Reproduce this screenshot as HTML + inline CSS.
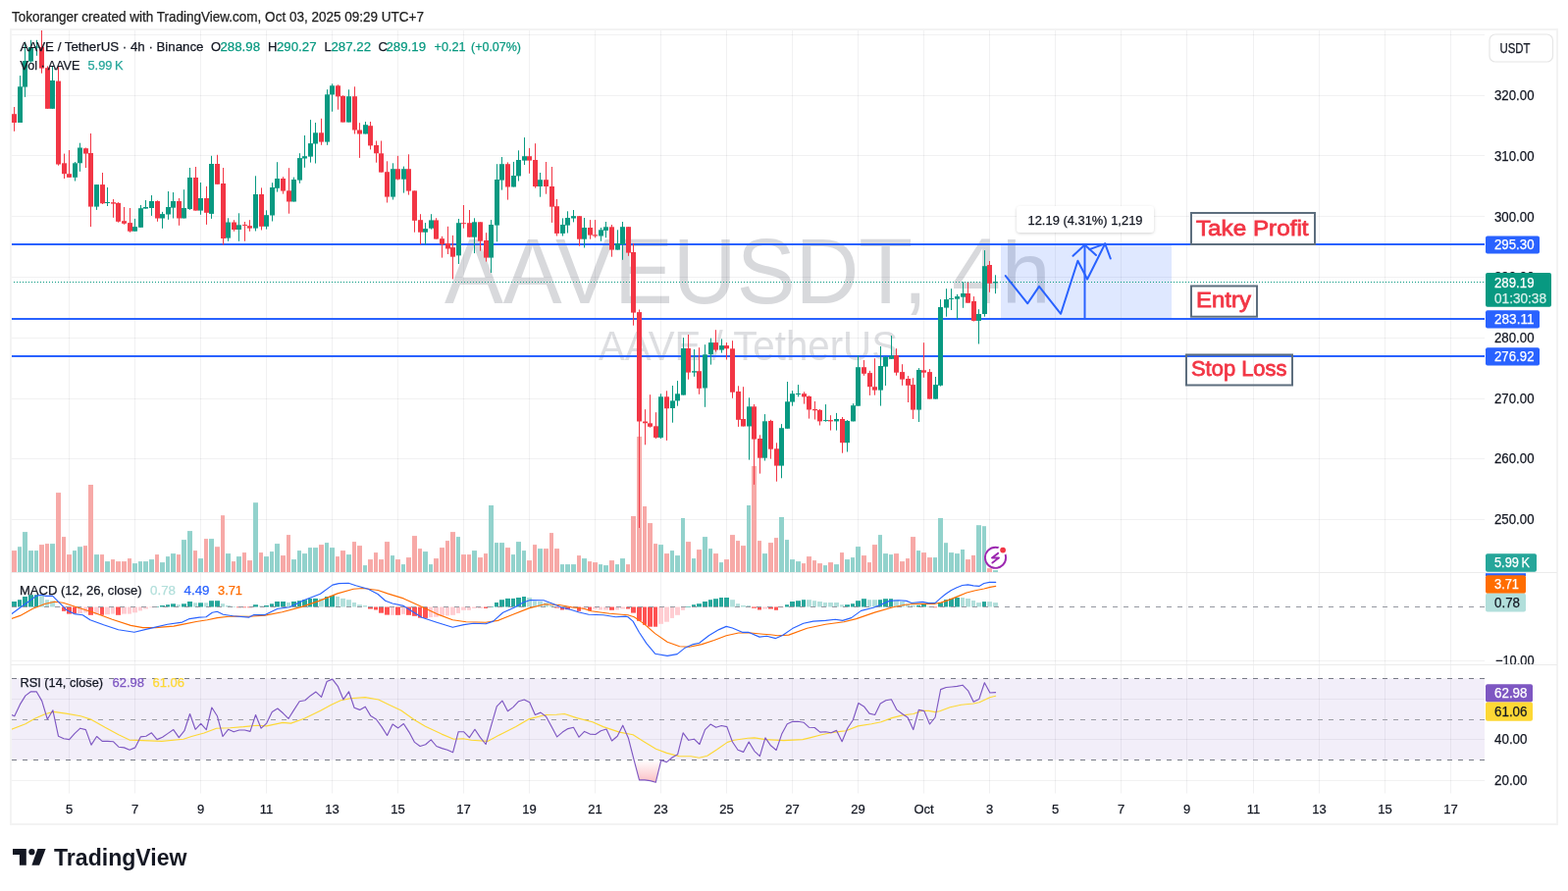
<!DOCTYPE html>
<html><head><meta charset="utf-8"><title>AAVEUSDT 4h chart</title><style>
html,body{margin:0;padding:0;background:#ffffff;width:1598px;height:908px;overflow:hidden}
svg{display:block}
text{font-family:'Liberation Sans', Arial, sans-serif}
</style></head><body>
<svg width="1598" height="908" viewBox="0 0 1598 908">
<defs>
<clipPath id="cmain"><rect x="12" y="31" width="1501" height="552"/></clipPath>
<clipPath id="cmacd"><rect x="12" y="584" width="1501" height="93"/></clipPath>
<clipPath id="crsi"><rect x="12" y="678" width="1501" height="131"/></clipPath>
<clipPath id="cmacdax"><rect x="1513" y="584" width="73" height="93"/></clipPath>
<linearGradient id="osg" x1="0" y1="0" x2="0" y2="1"><stop offset="0" stop-color="#f23645" stop-opacity="0"/><stop offset="1" stop-color="#f23645" stop-opacity="0.32"/></linearGradient>
</defs>
<text x="12" y="22" font-size="14" fill="#222222" text-anchor="start" font-weight="normal" textLength="420" lengthAdjust="spacingAndGlyphs" stroke="#222222" stroke-width="0.25">Tokoranger created with TradingView.com, Oct 03, 2025 09:29 UTC+7</text>
<rect x="11" y="30" width="1576" height="810" fill="#ffffff" stroke="#f3f3f3" stroke-width="2"/>
<g clip-path="url(#cmain)">
<text x="453" y="309" font-size="94" fill="#d8d9dc" text-anchor="start" font-weight="normal" textLength="567" lengthAdjust="spacingAndGlyphs">AAVEUSDT, 4</text>
<text x="1020.7" y="309" font-size="89.7" fill="#d8d9dc" text-anchor="start" font-weight="normal">h</text>
<text x="610" y="367.3" font-size="43" fill="#dddee1" text-anchor="start" font-weight="normal" textLength="305" lengthAdjust="spacingAndGlyphs">AAVE / TetherUS</text>
<path d="M70.5 31V583M137.5 31V583M204.5 31V583M271.5 31V583M338.5 31V583M405.5 31V583M472.5 31V583M539.5 31V583M606.5 31V583M673.5 31V583M740.5 31V583M807.5 31V583M874.5 31V583M941.5 31V583M1008.5 31V583M1075.5 31V583M1142.5 31V583M1209.5 31V583M1277.5 31V583M1344.5 31V583M1411.5 31V583M1478.5 31V583M1545.5 31V583M12 35.5H1513M12 97.5H1513M12 158.5H1513M12 220.5H1513M12 282.5H1513M12 344.5H1513M12 406.5H1513M12 467.5H1513M12 529.5H1513" stroke="#2a2e39" stroke-opacity="0.065" stroke-width="1" fill="none"/>
<g fill="#92d2cc"><rect x="18" y="557.2" width="4" height="25.8"/><rect x="23" y="542.1" width="5" height="40.9"/><rect x="29" y="561.1" width="5" height="21.9"/><rect x="35" y="561.1" width="4" height="21.9"/><rect x="51" y="554.1" width="5" height="28.9"/><rect x="74" y="561.1" width="4" height="21.9"/><rect x="79" y="557.2" width="5" height="25.8"/><rect x="96" y="565.1" width="5" height="17.9"/><rect x="107" y="572.1" width="5" height="10.9"/><rect x="135" y="574.1" width="5" height="8.9"/><rect x="141" y="572.1" width="4" height="10.9"/><rect x="146" y="572.1" width="5" height="10.9"/><rect x="152" y="570.1" width="5" height="12.9"/><rect x="163" y="573.1" width="5" height="9.9"/><rect x="169" y="567.1" width="4" height="15.9"/><rect x="174" y="564.1" width="5" height="18.9"/><rect x="185" y="550.1" width="5" height="32.9"/><rect x="191" y="541.1" width="5" height="41.9"/><rect x="202" y="569.1" width="5" height="13.9"/><rect x="213" y="549.1" width="5" height="33.9"/><rect x="230" y="564.1" width="5" height="18.9"/><rect x="241" y="567.1" width="5" height="15.9"/><rect x="258" y="512.2" width="5" height="70.8"/><rect x="269" y="567.1" width="5" height="15.9"/><rect x="275" y="562.1" width="4" height="20.9"/><rect x="280" y="554.1" width="5" height="28.9"/><rect x="297" y="570.1" width="5" height="12.9"/><rect x="303" y="561.1" width="4" height="21.9"/><rect x="308" y="564.1" width="5" height="18.9"/><rect x="314" y="558.1" width="4" height="24.9"/><rect x="319" y="558.1" width="5" height="24.9"/><rect x="331" y="553.1" width="4" height="29.9"/><rect x="336" y="558.1" width="5" height="24.9"/><rect x="353" y="565.1" width="5" height="17.9"/><rect x="370" y="576.1" width="4" height="6.9"/><rect x="398" y="566.1" width="4" height="16.9"/><rect x="409" y="575.1" width="4" height="7.9"/><rect x="431" y="562.1" width="5" height="20.9"/><rect x="437" y="575.1" width="4" height="7.9"/><rect x="465" y="547.1" width="4" height="35.9"/><rect x="481" y="561.1" width="5" height="21.9"/><rect x="498" y="515" width="5" height="68"/><rect x="504" y="553.1" width="4" height="29.9"/><rect x="509" y="553.1" width="5" height="29.9"/><rect x="521" y="565.1" width="4" height="17.9"/><rect x="526" y="552.1" width="5" height="30.9"/><rect x="532" y="561.1" width="4" height="21.9"/><rect x="548" y="559.1" width="5" height="23.9"/><rect x="571" y="575.1" width="4" height="7.9"/><rect x="576" y="575.1" width="5" height="7.9"/><rect x="582" y="575.1" width="5" height="7.9"/><rect x="593" y="569.1" width="5" height="13.9"/><rect x="610" y="575.1" width="4" height="7.9"/><rect x="615" y="576.1" width="5" height="6.9"/><rect x="627" y="575.1" width="4" height="7.9"/><rect x="632" y="569.1" width="5" height="13.9"/><rect x="671" y="555.1" width="5" height="27.9"/><rect x="683" y="561.1" width="4" height="21.9"/><rect x="688" y="566.1" width="5" height="16.9"/><rect x="694" y="528" width="4" height="55"/><rect x="705" y="569.1" width="4" height="13.9"/><rect x="716" y="547.1" width="5" height="35.9"/><rect x="722" y="559.1" width="4" height="23.9"/><rect x="733" y="573.1" width="4" height="9.9"/><rect x="761" y="515" width="4" height="68"/><rect x="777" y="564.1" width="5" height="18.9"/><rect x="794" y="527" width="5" height="56"/><rect x="800" y="550.1" width="4" height="32.9"/><rect x="805" y="570.1" width="5" height="12.9"/><rect x="811" y="572.1" width="5" height="10.9"/><rect x="839" y="576.1" width="4" height="6.9"/><rect x="850" y="575.1" width="5" height="7.9"/><rect x="861" y="570.1" width="5" height="12.9"/><rect x="867" y="568.1" width="4" height="14.9"/><rect x="872" y="557.1" width="5" height="25.9"/><rect x="895" y="545.1" width="4" height="37.9"/><rect x="900" y="564.1" width="5" height="18.9"/><rect x="906" y="565.1" width="4" height="17.9"/><rect x="934" y="561.1" width="4" height="21.9"/><rect x="951" y="568.1" width="4" height="14.9"/><rect x="956" y="528" width="5" height="55"/><rect x="962" y="553.2" width="4" height="29.8"/><rect x="967" y="563.1" width="5" height="19.9"/><rect x="973" y="564.1" width="5" height="18.9"/><rect x="979" y="560" width="4" height="23"/><rect x="995" y="535.2" width="5" height="47.8"/><rect x="1001" y="536.2" width="4" height="46.8"/><rect x="1012" y="581.1" width="5" height="1.9"/></g>
<g fill="#f7a9a7"><rect x="12" y="561.1" width="5" height="21.9"/><rect x="40" y="555.1" width="5" height="27.9"/><rect x="46" y="554.1" width="4" height="28.9"/><rect x="57" y="502.1" width="5" height="80.9"/><rect x="63" y="547.1" width="4" height="35.9"/><rect x="68" y="565.1" width="5" height="17.9"/><rect x="85" y="556.1" width="4" height="26.9"/><rect x="90" y="494" width="5" height="89"/><rect x="102" y="565.1" width="4" height="17.9"/><rect x="113" y="570.1" width="4" height="12.9"/><rect x="118" y="572.1" width="5" height="10.9"/><rect x="124" y="572.1" width="5" height="10.9"/><rect x="130" y="569.1" width="4" height="13.9"/><rect x="158" y="565.1" width="4" height="17.9"/><rect x="180" y="565.1" width="4" height="17.9"/><rect x="197" y="561.1" width="4" height="21.9"/><rect x="208" y="549.1" width="4" height="33.9"/><rect x="219" y="557.2" width="5" height="25.8"/><rect x="225" y="525.2" width="4" height="57.8"/><rect x="236" y="572.1" width="4" height="10.9"/><rect x="247" y="563.1" width="4" height="19.9"/><rect x="252" y="571.1" width="5" height="11.9"/><rect x="264" y="563.1" width="4" height="19.9"/><rect x="286" y="566.1" width="5" height="16.9"/><rect x="292" y="545.1" width="4" height="37.9"/><rect x="325" y="555.1" width="5" height="27.9"/><rect x="342" y="567.1" width="4" height="15.9"/><rect x="347" y="561.1" width="5" height="21.9"/><rect x="359" y="552.1" width="4" height="30.9"/><rect x="364" y="556.1" width="5" height="26.9"/><rect x="375" y="570.1" width="5" height="12.9"/><rect x="381" y="563.1" width="4" height="19.9"/><rect x="386" y="570.1" width="5" height="12.9"/><rect x="392" y="552.1" width="5" height="30.9"/><rect x="403" y="570.1" width="5" height="12.9"/><rect x="414" y="568.1" width="5" height="14.9"/><rect x="420" y="546.1" width="5" height="36.9"/><rect x="426" y="559.1" width="4" height="23.9"/><rect x="442" y="569.1" width="5" height="13.9"/><rect x="448" y="558.1" width="5" height="24.9"/><rect x="454" y="551.1" width="4" height="31.9"/><rect x="459" y="542.1" width="5" height="40.9"/><rect x="470" y="565.1" width="5" height="17.9"/><rect x="476" y="565.1" width="4" height="17.9"/><rect x="487" y="568.1" width="5" height="14.9"/><rect x="493" y="564.1" width="4" height="18.9"/><rect x="515" y="558.1" width="5" height="24.9"/><rect x="537" y="571.1" width="5" height="11.9"/><rect x="543" y="555.1" width="4" height="27.9"/><rect x="554" y="559.1" width="5" height="23.9"/><rect x="560" y="543.1" width="4" height="39.9"/><rect x="565" y="559.1" width="5" height="23.9"/><rect x="588" y="566.1" width="4" height="16.9"/><rect x="599" y="572.1" width="4" height="10.9"/><rect x="604" y="573.1" width="5" height="9.9"/><rect x="621" y="571.1" width="5" height="11.9"/><rect x="638" y="575.1" width="4" height="7.9"/><rect x="643" y="526" width="5" height="57"/><rect x="649" y="444.9" width="5" height="138.1"/><rect x="655" y="516" width="4" height="67"/><rect x="660" y="533.1" width="5" height="49.9"/><rect x="666" y="554.1" width="4" height="28.9"/><rect x="677" y="564.1" width="5" height="18.9"/><rect x="699" y="552.1" width="5" height="30.9"/><rect x="710" y="560.1" width="5" height="22.9"/><rect x="727" y="564.1" width="5" height="18.9"/><rect x="738" y="570.1" width="5" height="12.9"/><rect x="744" y="545.1" width="5" height="37.9"/><rect x="750" y="551.1" width="4" height="31.9"/><rect x="755" y="556.1" width="5" height="26.9"/><rect x="766" y="475" width="5" height="108"/><rect x="772" y="551.1" width="4" height="31.9"/><rect x="783" y="553.1" width="5" height="29.9"/><rect x="789" y="548.1" width="4" height="34.9"/><rect x="817" y="574.1" width="4" height="8.9"/><rect x="822" y="567.1" width="5" height="15.9"/><rect x="828" y="571.1" width="4" height="11.9"/><rect x="833" y="574.1" width="5" height="8.9"/><rect x="844" y="573.1" width="5" height="9.9"/><rect x="856" y="563.1" width="4" height="19.9"/><rect x="878" y="566.1" width="5" height="16.9"/><rect x="884" y="573.1" width="4" height="9.9"/><rect x="889" y="555.1" width="5" height="27.9"/><rect x="911" y="564.1" width="5" height="18.9"/><rect x="917" y="572.1" width="5" height="10.9"/><rect x="923" y="569.1" width="4" height="13.9"/><rect x="928" y="547.1" width="5" height="35.9"/><rect x="939" y="563.1" width="5" height="19.9"/><rect x="945" y="568.1" width="5" height="14.9"/><rect x="984" y="570.1" width="5" height="12.9"/><rect x="990" y="565.9" width="4" height="17.1"/><rect x="1006" y="579.1" width="5" height="3.9"/></g>
<rect x="1020" y="249" width="174" height="75.5" fill="#2962ff" fill-opacity="0.15"/>
<line x1="12" y1="249" x2="1513" y2="249" stroke="#2962ff" stroke-width="2"/>
<line x1="12" y1="325" x2="1513" y2="325" stroke="#2962ff" stroke-width="2"/>
<line x1="12" y1="363" x2="1513" y2="363" stroke="#2962ff" stroke-width="2"/>
<line x1="12" y1="287.5" x2="1513" y2="287.5" stroke="#089981" stroke-width="1" stroke-dasharray="1 2" stroke-dashoffset="1"/>
<path d="M20.5 77.1V125M25.5 42.6V98.9M31.5 40.8V63.8M37.5 40.8V56.8M53.5 67.4V110.8M76.5 165V184.5M81.5 145.7V174.8M98.5 188.1V213.9M109.5 191V210M137.5 222.9V235.7M143.5 209V231.8M148.5 204V212.6M154.5 199V219.9M165.5 215.9V232.8M171.5 195V223.8M176.5 196V222.5M187.5 193.2V222.5M193.5 171V213.9M204.5 186V218.8M215.5 158.8V222.9M232.5 222.3V245.8M243.5 217.3V245.8M260.5 179.3V235.5M271.5 214.3V233.6M277.5 186.2V225.5M282.5 165.2V195.6M299.5 180.6V205.5M305.5 156.2V186.8M310.5 138V170.8M316.5 122.1V165.6M321.5 125V166.5M333.5 91.2V147.8M338.5 85.4V113.7M355.5 91.3V124.6M372.5 124V136.5M400.5 166.3V203.5M411.5 169.6V196.6M433.5 227.1V249.5M439.5 218.2V233.7M467.5 223V269M483.5 222.3V258.1M500.5 224.1V278M506.5 167.2V246.3M511.5 160V193.6M523.5 164.9V190.5M528.5 153.3V184.5M534.5 140.1V168M550.5 176V200.7M573.5 222.4V240.5M578.5 215.3V237.5M584.5 214V226.4M595.5 222V252.5M612.5 232V245.8M617.5 226V242.3M629.5 234.3V254.6M634.5 226V264.8M673.5 401.3V447.1M685.5 393V430.7M690.5 388.1V413.7M696.5 344.1V402.6M707.5 356V383.8M718.5 351.2V414.8M724.5 344.6V371.6M735.5 345.4V359.6M763.5 405.3V468.6M779.5 422.1V469.5M796.5 432.1V487.3M802.5 389V436.8M807.5 398.2V413.7M813.5 392.1V404.4M841.5 412.1V429.7M852.5 420.9V438.6M863.5 428.1V460.5M869.5 411.2V429.4M874.5 362.3V413.7M897.5 353V413.6M902.5 363.3V393M908.5 342.1V365.8M936.5 375.1V430M953.5 384V406.6M958.5 305.1V393.6M964.5 294.2V322.7M969.5 294.2V316M975.5 299.9V325.7M981.5 287.3V313.8M997.5 315.2V350.5M1003.5 255.1V322.7M1014.5 280.3V299.2" stroke="#089981" stroke-width="1" fill="none"/>
<g fill="#089981"><rect x="18" y="88.3" width="5" height="36.7"/><rect x="23" y="62" width="5" height="26.6"/><rect x="29" y="48" width="5" height="14.6"/><rect x="35" y="47.4" width="5" height="1.2"/><rect x="51" y="82" width="5" height="28.8"/><rect x="74" y="166.3" width="5" height="14.5"/><rect x="79" y="150.5" width="5" height="15.8"/><rect x="96" y="188.1" width="5" height="22.5"/><rect x="107" y="206" width="5" height="1"/><rect x="135" y="231.1" width="5" height="4.6"/><rect x="141" y="212.2" width="5" height="19.6"/><rect x="146" y="211" width="5" height="1.6"/><rect x="152" y="205" width="5" height="7"/><rect x="163" y="218.1" width="5" height="4.4"/><rect x="169" y="211" width="5" height="7.5"/><rect x="174" y="205" width="5" height="6.7"/><rect x="185" y="212" width="5" height="10.5"/><rect x="191" y="180.9" width="5" height="32.1"/><rect x="202" y="202" width="5" height="12.6"/><rect x="213" y="167" width="5" height="50.9"/><rect x="230" y="226.5" width="5" height="16.1"/><rect x="241" y="229.3" width="5" height="4.7"/><rect x="258" y="198" width="5" height="34.6"/><rect x="269" y="219.2" width="5" height="11.6"/><rect x="275" y="191" width="5" height="28.5"/><rect x="280" y="182" width="5" height="9.8"/><rect x="297" y="183" width="5" height="22.5"/><rect x="303" y="161.1" width="5" height="22.5"/><rect x="308" y="159.2" width="5" height="2.3"/><rect x="314" y="146.1" width="5" height="13.5"/><rect x="319" y="135.3" width="5" height="11.2"/><rect x="331" y="96.3" width="5" height="48.3"/><rect x="336" y="87.3" width="5" height="9.2"/><rect x="353" y="98.2" width="5" height="26.4"/><rect x="370" y="127.2" width="5" height="9.3"/><rect x="398" y="172.2" width="5" height="28.4"/><rect x="409" y="172.2" width="5" height="10.5"/><rect x="431" y="233.1" width="5" height="3.6"/><rect x="437" y="224.4" width="5" height="8.3"/><rect x="465" y="227.2" width="5" height="33.2"/><rect x="481" y="226.3" width="5" height="15.4"/><rect x="498" y="229" width="5" height="33.6"/><rect x="504" y="183" width="5" height="46.6"/><rect x="509" y="167.2" width="5" height="16.4"/><rect x="521" y="179" width="5" height="11.5"/><rect x="526" y="163" width="5" height="16.4"/><rect x="532" y="159.2" width="5" height="4.4"/><rect x="548" y="183.2" width="5" height="6.8"/><rect x="571" y="229" width="5" height="8.9"/><rect x="576" y="222" width="5" height="7.6"/><rect x="582" y="220.2" width="5" height="2.3"/><rect x="593" y="232" width="5" height="11.7"/><rect x="610" y="234.3" width="5" height="6.2"/><rect x="615" y="231.3" width="5" height="3.6"/><rect x="627" y="248.1" width="5" height="6.5"/><rect x="632" y="231.2" width="5" height="17.8"/><rect x="671" y="404.3" width="5" height="41.6"/><rect x="683" y="408.4" width="5" height="7.6"/><rect x="688" y="401.3" width="5" height="7.1"/><rect x="694" y="355" width="5" height="47.6"/><rect x="705" y="378.2" width="5" height="1.4"/><rect x="716" y="361.3" width="5" height="34.2"/><rect x="722" y="349.1" width="5" height="12.2"/><rect x="733" y="352.1" width="5" height="4.5"/><rect x="761" y="414.3" width="5" height="20.2"/><rect x="777" y="429.3" width="5" height="37.4"/><rect x="794" y="436.2" width="5" height="38.4"/><rect x="800" y="409.3" width="5" height="27.5"/><rect x="805" y="401.2" width="5" height="8.4"/><rect x="811" y="401" width="5" height="1"/><rect x="839" y="428.1" width="5" height="1"/><rect x="850" y="427" width="5" height="2.4"/><rect x="861" y="428.9" width="5" height="22.3"/><rect x="867" y="413.2" width="5" height="16.2"/><rect x="872" y="374.2" width="5" height="39.5"/><rect x="895" y="373" width="5" height="24.6"/><rect x="900" y="363.7" width="5" height="9.9"/><rect x="906" y="362.5" width="5" height="3.3"/><rect x="934" y="377" width="5" height="40.6"/><rect x="951" y="392.1" width="5" height="14.5"/><rect x="956" y="313" width="5" height="79.8"/><rect x="962" y="305.1" width="5" height="8.5"/><rect x="967" y="303.9" width="5" height="1"/><rect x="973" y="302.1" width="5" height="2.6"/><rect x="979" y="299" width="5" height="3.7"/><rect x="995" y="320" width="5" height="6.9"/><rect x="1001" y="271.2" width="5" height="48.8"/><rect x="1012" y="287" width="5" height="1.3"/></g>
<path d="M14.5 109V133.8M42.5 30.1V74.7M48.5 67.4V110.8M59.5 66.8V168.7M65.5 156.6V182M70.5 153V180.8M87.5 150.5V171M92.5 136V231.1M104.5 176V208M115.5 203V221.8M120.5 206.2V226.7M126.5 211V228.8M132.5 212V236.8M160.5 204.3V225.8M182.5 202V229.8M199.5 170V214.6M210.5 189.9V228.9M221.5 157.8V187.8M227.5 171V249.6M238.5 224.2V235.8M249.5 226V245.8M254.5 224.2V235.8M266.5 191.4V234.5M288.5 180.2V197.6M294.5 171.2V217.7M327.5 120.8V147.8M344.5 86.3V111.7M349.5 97.3V124.6M361.5 88.3V136.5M366.5 125.2V160.9M377.5 124V152.4M383.5 143.5V165.7M388.5 143.5V175.6M394.5 164.3V206.5M405.5 158.9V183.5M416.5 157.3V198.6M422.5 194.4V236.7M428.5 218.2V249M444.5 222.2V243.6M450.5 240.8V262.6M456.5 230.8V259M461.5 239.9V284.4M472.5 209V232.7M478.5 214V241.7M489.5 226.3V255.7M495.5 237.2V266.6M517.5 165.4V203.6M539.5 150.9V176.8M545.5 146.2V191.6M556.5 165V197.7M562.5 170V226.9M567.5 202.9V240.5M590.5 220.2V250.7M601.5 224.1V243.7M606.5 224.1V242.3M623.5 229V261.7M640.5 231.2V260.8M645.5 248.2V331.7M651.5 315.5V538M657.5 417.2V453.3M662.5 402.2V435.7M668.5 420.2V447.1M679.5 398.3V448.9M701.5 341V386.7M712.5 354.2V401.8M729.5 336.2V358.5M740.5 349.1V366.5M746.5 347.2V405.8M752.5 393.3V434.9M757.5 394.2V434.5M768.5 412V493.9M774.5 443.3V482.6M785.5 427.8V467.6M791.5 451.3V490.7M819.5 399.3V411.6M824.5 403.2V426.6M830.5 409V427.5M835.5 417V433.5M846.5 423.2V438.6M858.5 425V461.7M880.5 367V382.8M886.5 377.8V402.9M891.5 365.2V402.7M913.5 355.2V382.7M919.5 371.2V392.8M925.5 383.1V410M930.5 385.2V427M941.5 349.2V384.8M947.5 376.1V406.6M986.5 287.8V308.7M992.5 302.1V327.5M1008.5 266V297.8" stroke="#f23645" stroke-width="1" fill="none"/>
<g fill="#f23645"><rect x="12" y="116.2" width="5" height="8.8"/><rect x="40" y="48" width="5" height="21.6"/><rect x="46" y="69.2" width="5" height="41.6"/><rect x="57" y="82.6" width="5" height="84.9"/><rect x="63" y="166.3" width="5" height="10.9"/><rect x="68" y="177.2" width="5" height="3.6"/><rect x="85" y="151.2" width="5" height="5.4"/><rect x="90" y="156" width="5" height="54.6"/><rect x="102" y="188.1" width="5" height="19.2"/><rect x="113" y="206.2" width="5" height="1.4"/><rect x="118" y="206.9" width="5" height="18.9"/><rect x="124" y="225.2" width="5" height="2.6"/><rect x="130" y="227.1" width="5" height="8.6"/><rect x="158" y="205" width="5" height="17.5"/><rect x="180" y="205" width="5" height="17.5"/><rect x="197" y="180.9" width="5" height="33.7"/><rect x="208" y="202" width="5" height="14.8"/><rect x="219" y="167" width="5" height="20.8"/><rect x="225" y="187" width="5" height="56"/><rect x="236" y="226.5" width="5" height="7.5"/><rect x="247" y="228.9" width="5" height="1"/><rect x="252" y="230.2" width="5" height="2.4"/><rect x="264" y="198" width="5" height="32.8"/><rect x="286" y="182" width="5" height="12.6"/><rect x="292" y="194.3" width="5" height="11.2"/><rect x="325" y="135.3" width="5" height="9.3"/><rect x="342" y="87.3" width="5" height="11.1"/><rect x="347" y="97.8" width="5" height="26.8"/><rect x="359" y="98.2" width="5" height="34.3"/><rect x="364" y="132.5" width="5" height="4"/><rect x="375" y="128.2" width="5" height="20.2"/><rect x="381" y="148" width="5" height="8.3"/><rect x="386" y="156.3" width="5" height="19.3"/><rect x="392" y="175.2" width="5" height="25.4"/><rect x="403" y="172.2" width="5" height="10.5"/><rect x="414" y="172.2" width="5" height="22.4"/><rect x="420" y="194.4" width="5" height="30.4"/><rect x="426" y="224.2" width="5" height="12.5"/><rect x="442" y="224.4" width="5" height="19.2"/><rect x="448" y="243.2" width="5" height="5.8"/><rect x="454" y="248.1" width="5" height="5.4"/><rect x="459" y="252.1" width="5" height="9.6"/><rect x="470" y="227.2" width="5" height="1"/><rect x="476" y="227.2" width="5" height="14.5"/><rect x="487" y="226.3" width="5" height="19.4"/><rect x="493" y="245" width="5" height="17.6"/><rect x="515" y="167.2" width="5" height="23.3"/><rect x="537" y="159.2" width="5" height="4.4"/><rect x="543" y="163" width="5" height="27"/><rect x="554" y="183.2" width="5" height="6.8"/><rect x="560" y="190" width="5" height="20.7"/><rect x="565" y="210.2" width="5" height="27.7"/><rect x="588" y="220.2" width="5" height="23.5"/><rect x="599" y="232" width="5" height="7.6"/><rect x="604" y="239.3" width="5" height="1.2"/><rect x="621" y="231.3" width="5" height="23.3"/><rect x="638" y="231.2" width="5" height="26.4"/><rect x="643" y="257" width="5" height="61.6"/><rect x="649" y="318.1" width="5" height="111.4"/><rect x="655" y="429.5" width="5" height="1.8"/><rect x="660" y="431.3" width="5" height="3.5"/><rect x="666" y="434.3" width="5" height="11.6"/><rect x="677" y="404.3" width="5" height="12"/><rect x="699" y="355" width="5" height="24.6"/><rect x="710" y="378.2" width="5" height="17.6"/><rect x="727" y="349.1" width="5" height="7.5"/><rect x="738" y="352.1" width="5" height="3.2"/><rect x="744" y="355.3" width="5" height="44.4"/><rect x="750" y="398.9" width="5" height="28.9"/><rect x="755" y="427" width="5" height="7.5"/><rect x="766" y="414.3" width="5" height="33.3"/><rect x="772" y="447" width="5" height="19.7"/><rect x="783" y="428.9" width="5" height="28.8"/><rect x="789" y="457.3" width="5" height="17.3"/><rect x="817" y="401.2" width="5" height="3.2"/><rect x="822" y="404" width="5" height="13.5"/><rect x="828" y="417" width="5" height="1.3"/><rect x="833" y="417.8" width="5" height="11.6"/><rect x="844" y="428.1" width="5" height="1.3"/><rect x="856" y="427" width="5" height="24.2"/><rect x="878" y="374.2" width="5" height="6.6"/><rect x="884" y="380.1" width="5" height="14.1"/><rect x="889" y="394.2" width="5" height="3.4"/><rect x="911" y="362.1" width="5" height="17.6"/><rect x="917" y="379.1" width="5" height="7.5"/><rect x="923" y="386" width="5" height="6.8"/><rect x="928" y="392.1" width="5" height="25.5"/><rect x="939" y="377.3" width="5" height="2.4"/><rect x="945" y="379.1" width="5" height="27.5"/><rect x="984" y="299" width="5" height="9.7"/><rect x="990" y="306.9" width="5" height="20"/><rect x="1006" y="270" width="5" height="18.8"/></g>
<polyline points="1024.8,281.1 1047.3,309.3 1059,291.9 1081.1,319.8 1098.4,265.8 1108.1,284.5 1126.2,248.4" fill="none" stroke="#2962ff" stroke-width="2" stroke-linejoin="round" stroke-linecap="round"/>
<polyline points="1110.4,254.1 1126.2,248.4 1131.8,263.5" fill="none" stroke="#2962ff" stroke-width="2" stroke-linejoin="round" stroke-linecap="round"/>
<line x1="1105.5" y1="324" x2="1105.5" y2="249.5" stroke="#2962ff" stroke-width="2"/>
<polyline points="1093.5,260.8 1105.5,249.5 1117,260" fill="none" stroke="#2962ff" stroke-width="2" stroke-linejoin="round" stroke-linecap="round"/>
</g>
<rect x="1214" y="217" width="126" height="32" fill="none" stroke="#5d6e7e" stroke-width="2"/>
<text x="1219" y="240" font-size="22.5" fill="#f23645" text-anchor="start" font-weight="normal" textLength="114.5" lengthAdjust="spacingAndGlyphs" stroke="#f23645" stroke-width="0.8">Take Profit</text>
<rect x="1214" y="291.5" width="67" height="31.2" fill="none" stroke="#5d6e7e" stroke-width="2"/>
<text x="1219" y="313.3" font-size="22.5" fill="#f23645" text-anchor="start" font-weight="normal" textLength="56" lengthAdjust="spacingAndGlyphs" stroke="#f23645" stroke-width="0.8">Entry</text>
<rect x="1209" y="361.5" width="108" height="31" fill="none" stroke="#5d6e7e" stroke-width="2"/>
<text x="1214" y="383.3" font-size="22.5" fill="#f23645" text-anchor="start" font-weight="normal" textLength="97.5" lengthAdjust="spacingAndGlyphs" stroke="#f23645" stroke-width="0.8">Stop Loss</text>
<filter id="sh" x="-10%" y="-30%" width="120%" height="160%"><feDropShadow dx="0" dy="1" stdDeviation="1.5" flood-color="#000" flood-opacity="0.18"/></filter>
<rect x="1036" y="210" width="140" height="27" rx="4" fill="#ffffff" filter="url(#sh)"/>
<text x="1106" y="229" font-size="13" fill="#131722" text-anchor="middle" font-weight="normal" textLength="117" lengthAdjust="spacingAndGlyphs" stroke="#131722" stroke-width="0.25">12.19 (4.31%) 1,219</text>
<g>
<text x="20.5" y="51.5" font-size="13" fill="#131722" text-anchor="start" font-weight="normal" textLength="187" lengthAdjust="spacingAndGlyphs" stroke="#131722" stroke-width="0.25">AAVE / TetherUS · 4h · Binance</text>
<text x="215" y="51.5" font-size="13" fill="#131722" text-anchor="start" font-weight="normal" stroke="#131722" stroke-width="0.25">O</text>
<text x="224.5" y="51.5" font-size="13" fill="#089981" text-anchor="start" font-weight="normal" textLength="40.5" lengthAdjust="spacingAndGlyphs" stroke="#089981" stroke-width="0.25">288.98</text>
<text x="273" y="51.5" font-size="13" fill="#131722" text-anchor="start" font-weight="normal" stroke="#131722" stroke-width="0.25">H</text>
<text x="282" y="51.5" font-size="13" fill="#089981" text-anchor="start" font-weight="normal" textLength="40.5" lengthAdjust="spacingAndGlyphs" stroke="#089981" stroke-width="0.25">290.27</text>
<text x="330.5" y="51.5" font-size="13" fill="#131722" text-anchor="start" font-weight="normal" stroke="#131722" stroke-width="0.25">L</text>
<text x="337.5" y="51.5" font-size="13" fill="#089981" text-anchor="start" font-weight="normal" textLength="40.5" lengthAdjust="spacingAndGlyphs" stroke="#089981" stroke-width="0.25">287.22</text>
<text x="385.5" y="51.5" font-size="13" fill="#131722" text-anchor="start" font-weight="normal" stroke="#131722" stroke-width="0.25">C</text>
<text x="393.5" y="51.5" font-size="13" fill="#089981" text-anchor="start" font-weight="normal" textLength="40.5" lengthAdjust="spacingAndGlyphs" stroke="#089981" stroke-width="0.25">289.19</text>
<text x="442.5" y="51.5" font-size="13" fill="#089981" text-anchor="start" font-weight="normal" textLength="32" lengthAdjust="spacingAndGlyphs" stroke="#089981" stroke-width="0.25">+0.21</text>
<text x="480" y="51.5" font-size="13" fill="#089981" text-anchor="start" font-weight="normal" textLength="51" lengthAdjust="spacingAndGlyphs" stroke="#089981" stroke-width="0.25">(+0.07%)</text>
<text x="20.5" y="70.5" font-size="13" fill="#131722" text-anchor="start" font-weight="normal" textLength="61" lengthAdjust="spacingAndGlyphs" stroke="#131722" stroke-width="0.25">Vol · AAVE</text>
<text x="89.5" y="70.5" font-size="13" fill="#26a69a" text-anchor="start" font-weight="normal" textLength="36" lengthAdjust="spacingAndGlyphs" stroke="#26a69a" stroke-width="0.25">5.99 K</text>
</g>
<text x="1523" y="102.1" font-size="14.2" fill="#131722" text-anchor="start" font-weight="normal" textLength="40.5" lengthAdjust="spacingAndGlyphs" stroke="#131722" stroke-width="0.25">320.00</text>
<text x="1523" y="163.8" font-size="14.2" fill="#131722" text-anchor="start" font-weight="normal" textLength="40.5" lengthAdjust="spacingAndGlyphs" stroke="#131722" stroke-width="0.25">310.00</text>
<text x="1523" y="225.5" font-size="14.2" fill="#131722" text-anchor="start" font-weight="normal" textLength="40.5" lengthAdjust="spacingAndGlyphs" stroke="#131722" stroke-width="0.25">300.00</text>
<text x="1523" y="287.2" font-size="14.2" fill="#131722" text-anchor="start" font-weight="normal" textLength="40.5" lengthAdjust="spacingAndGlyphs" stroke="#131722" stroke-width="0.25">290.00</text>
<text x="1523" y="348.9" font-size="14.2" fill="#131722" text-anchor="start" font-weight="normal" textLength="40.5" lengthAdjust="spacingAndGlyphs" stroke="#131722" stroke-width="0.25">280.00</text>
<text x="1523" y="410.6" font-size="14.2" fill="#131722" text-anchor="start" font-weight="normal" textLength="40.5" lengthAdjust="spacingAndGlyphs" stroke="#131722" stroke-width="0.25">270.00</text>
<text x="1523" y="472.3" font-size="14.2" fill="#131722" text-anchor="start" font-weight="normal" textLength="40.5" lengthAdjust="spacingAndGlyphs" stroke="#131722" stroke-width="0.25">260.00</text>
<text x="1523" y="534" font-size="14.2" fill="#131722" text-anchor="start" font-weight="normal" textLength="40.5" lengthAdjust="spacingAndGlyphs" stroke="#131722" stroke-width="0.25">250.00</text>
<rect x="1518" y="35" width="64.5" height="28" rx="6" fill="#ffffff" stroke="#e6e6e6" stroke-width="1.2"/>
<text x="1528.5" y="53.9" font-size="14" fill="#131722" text-anchor="start" font-weight="normal" textLength="31" lengthAdjust="spacingAndGlyphs" stroke="#131722" stroke-width="0.25">USDT</text>
<rect x="1514" y="240.5" width="55" height="18.1" rx="2" fill="#2962ff"/>
<text x="1523" y="254.45" font-size="14.2" fill="#ffffff" text-anchor="start" font-weight="normal" textLength="40.5" lengthAdjust="spacingAndGlyphs" stroke="#ffffff" stroke-width="0.25">295.30</text>
<rect x="1514" y="316.3" width="55" height="18.2" rx="2" fill="#2962ff"/>
<text x="1523" y="330.3" font-size="14.2" fill="#ffffff" text-anchor="start" font-weight="normal" textLength="40.5" lengthAdjust="spacingAndGlyphs" stroke="#ffffff" stroke-width="0.25">283.11</text>
<rect x="1514" y="354.3" width="55" height="18.2" rx="2" fill="#2962ff"/>
<text x="1523" y="368.3" font-size="14.2" fill="#ffffff" text-anchor="start" font-weight="normal" textLength="40.5" lengthAdjust="spacingAndGlyphs" stroke="#ffffff" stroke-width="0.25">276.92</text>
<rect x="1514" y="278" width="67" height="34.7" rx="2" fill="#089981"/>
<text x="1523" y="293.4" font-size="14.2" fill="#ffffff" text-anchor="start" font-weight="normal" textLength="40.5" lengthAdjust="spacingAndGlyphs" stroke="#ffffff" stroke-width="0.25">289.19</text>
<text x="1523" y="308.7" font-size="14.2" fill="#d8f0eb" text-anchor="start" font-weight="normal" textLength="53" lengthAdjust="spacingAndGlyphs" stroke="#d8f0eb" stroke-width="0.25">01:30:38</text>
<rect x="1514" y="564.2" width="52" height="18.5" rx="2" fill="#26a69a"/>
<text x="1523" y="578.35" font-size="14.2" fill="#ffffff" text-anchor="start" font-weight="normal" textLength="36" lengthAdjust="spacingAndGlyphs" stroke="#ffffff" stroke-width="0.25">5.99 K</text>
<path d="M11 583.5H1587M11 677.5H1587" stroke="#ebebeb" stroke-width="1"/>
<g clip-path="url(#cmacd)">
<path d="M70.5 584V677M137.5 584V677M204.5 584V677M271.5 584V677M338.5 584V677M405.5 584V677M472.5 584V677M539.5 584V677M606.5 584V677M673.5 584V677M740.5 584V677M807.5 584V677M874.5 584V677M941.5 584V677M1008.5 584V677M1075.5 584V677M1142.5 584V677M1209.5 584V677M1277.5 584V677M1344.5 584V677M1411.5 584V677M1478.5 584V677M1545.5 584V677M12 673.5H1513" stroke="#2a2e39" stroke-opacity="0.065" stroke-width="1" fill="none"/>
<g fill="#26a69a"><rect x="12" y="613" width="5" height="5.5"/><rect x="18" y="611.2" width="4" height="7.3"/><rect x="23" y="608" width="5" height="10.5"/><rect x="29" y="606.2" width="5" height="12.3"/><rect x="35" y="606.2" width="4" height="12.3"/><rect x="158" y="618" width="4" height="0.6"/><rect x="163" y="617" width="5" height="1.5"/><rect x="169" y="616.2" width="4" height="2.3"/><rect x="174" y="615.3" width="5" height="3.2"/><rect x="185" y="615.3" width="5" height="3.2"/><rect x="191" y="613" width="5" height="5.5"/><rect x="202" y="614.3" width="5" height="4.2"/><rect x="213" y="612.2" width="5" height="6.3"/><rect x="219" y="612.2" width="5" height="6.3"/><rect x="258" y="616.2" width="5" height="2.3"/><rect x="269" y="617" width="5" height="1.5"/><rect x="275" y="615.3" width="4" height="3.2"/><rect x="280" y="613" width="5" height="5.5"/><rect x="286" y="613" width="5" height="5.5"/><rect x="297" y="613" width="5" height="5.5"/><rect x="303" y="612.2" width="4" height="6.3"/><rect x="308" y="611.2" width="5" height="7.3"/><rect x="314" y="609.9" width="4" height="8.6"/><rect x="319" y="609.9" width="5" height="8.6"/><rect x="331" y="608" width="4" height="10.5"/><rect x="336" y="607" width="5" height="11.5"/><rect x="498" y="618" width="5" height="0.6"/><rect x="504" y="614" width="4" height="4.5"/><rect x="509" y="611.2" width="5" height="7.3"/><rect x="515" y="609.9" width="5" height="8.6"/><rect x="521" y="609.9" width="4" height="8.6"/><rect x="526" y="609" width="5" height="9.5"/><rect x="532" y="608" width="4" height="10.5"/><rect x="699" y="618" width="5" height="0.6"/><rect x="705" y="616.2" width="4" height="2.3"/><rect x="710" y="615.2" width="5" height="3.3"/><rect x="716" y="613" width="5" height="5.5"/><rect x="722" y="611.2" width="4" height="7.3"/><rect x="727" y="610.2" width="5" height="8.3"/><rect x="733" y="609" width="4" height="9.5"/><rect x="738" y="609" width="5" height="9.5"/><rect x="800" y="616.2" width="4" height="2.3"/><rect x="805" y="613" width="5" height="5.5"/><rect x="811" y="612.2" width="5" height="6.3"/><rect x="817" y="611.2" width="4" height="7.3"/><rect x="861" y="616.2" width="5" height="2.3"/><rect x="867" y="615.2" width="4" height="3.3"/><rect x="872" y="612.2" width="5" height="6.3"/><rect x="878" y="610.2" width="5" height="8.3"/><rect x="895" y="611.2" width="4" height="7.3"/><rect x="900" y="610.2" width="5" height="8.3"/><rect x="906" y="610.2" width="4" height="8.3"/><rect x="934" y="616.8" width="4" height="1.7"/><rect x="939" y="616" width="5" height="2.5"/><rect x="956" y="614.1" width="5" height="4.4"/><rect x="962" y="611.1" width="4" height="7.4"/><rect x="967" y="610" width="5" height="8.5"/><rect x="973" y="609" width="5" height="9.5"/><rect x="1001" y="613.1" width="4" height="5.4"/></g>
<g fill="#b2dfdb"><rect x="40" y="607" width="5" height="11.5"/><rect x="46" y="611.2" width="4" height="7.3"/><rect x="51" y="612.4" width="5" height="6.1"/><rect x="57" y="618" width="5" height="0.6"/><rect x="180" y="616.2" width="4" height="2.3"/><rect x="197" y="614.3" width="4" height="4.2"/><rect x="208" y="614.3" width="4" height="4.2"/><rect x="225" y="615.2" width="4" height="3.3"/><rect x="230" y="617" width="5" height="1.5"/><rect x="236" y="618" width="4" height="0.6"/><rect x="264" y="617.4" width="4" height="1.1"/><rect x="292" y="614" width="4" height="4.5"/><rect x="325" y="609.9" width="5" height="8.6"/><rect x="342" y="608" width="4" height="10.5"/><rect x="347" y="609.9" width="5" height="8.6"/><rect x="353" y="611.2" width="5" height="7.3"/><rect x="359" y="614" width="4" height="4.5"/><rect x="364" y="616.2" width="5" height="2.3"/><rect x="370" y="617" width="4" height="1.5"/><rect x="537" y="609" width="5" height="9.5"/><rect x="543" y="612.4" width="4" height="6.1"/><rect x="548" y="612.8" width="5" height="5.7"/><rect x="554" y="614.3" width="5" height="4.2"/><rect x="560" y="617" width="4" height="1.5"/><rect x="744" y="611.2" width="5" height="7.3"/><rect x="750" y="615.2" width="4" height="3.3"/><rect x="755" y="617" width="5" height="1.5"/><rect x="761" y="617" width="4" height="1.5"/><rect x="822" y="611.2" width="5" height="7.3"/><rect x="828" y="612.2" width="4" height="6.3"/><rect x="833" y="613" width="5" height="5.5"/><rect x="839" y="614" width="4" height="4.5"/><rect x="844" y="614" width="5" height="4.5"/><rect x="850" y="614" width="5" height="4.5"/><rect x="856" y="616.2" width="4" height="2.3"/><rect x="884" y="611.2" width="4" height="7.3"/><rect x="889" y="611.2" width="5" height="7.3"/><rect x="911" y="611.2" width="5" height="7.3"/><rect x="917" y="613" width="5" height="5.5"/><rect x="923" y="615.5" width="4" height="3"/><rect x="928" y="616.8" width="5" height="1.7"/><rect x="945" y="618" width="5" height="0.6"/><rect x="979" y="609" width="4" height="9.5"/><rect x="984" y="610" width="5" height="8.5"/><rect x="990" y="612" width="4" height="6.5"/><rect x="995" y="614.1" width="5" height="4.4"/><rect x="1006" y="613.1" width="5" height="5.4"/><rect x="1012" y="614.1" width="5" height="4.4"/></g>
<g fill="#ff5252"><rect x="63" y="618.5" width="4" height="4.3"/><rect x="68" y="618.5" width="5" height="7.1"/><rect x="74" y="618.5" width="4" height="6.8"/><rect x="90" y="618.5" width="5" height="8.3"/><rect x="102" y="618.5" width="4" height="8.3"/><rect x="118" y="618.5" width="5" height="8.3"/><rect x="241" y="618.5" width="5" height="0.7"/><rect x="247" y="618.5" width="4" height="0.7"/><rect x="252" y="618.5" width="5" height="0.7"/><rect x="375" y="618.5" width="5" height="2"/><rect x="381" y="618.5" width="4" height="3"/><rect x="386" y="618.5" width="5" height="6.2"/><rect x="392" y="618.5" width="5" height="8.1"/><rect x="403" y="618.5" width="5" height="8.3"/><rect x="414" y="618.5" width="5" height="8.3"/><rect x="420" y="618.5" width="5" height="9.3"/><rect x="426" y="618.5" width="4" height="11.1"/><rect x="431" y="618.5" width="5" height="11.4"/><rect x="493" y="618.5" width="4" height="1.4"/><rect x="565" y="618.5" width="5" height="1"/><rect x="571" y="618.5" width="4" height="3"/><rect x="576" y="618.5" width="5" height="2.7"/><rect x="588" y="618.5" width="4" height="4.3"/><rect x="599" y="618.5" width="4" height="3.9"/><rect x="621" y="618.5" width="5" height="3.3"/><rect x="638" y="618.5" width="4" height="2"/><rect x="643" y="618.5" width="5" height="6.1"/><rect x="649" y="618.5" width="5" height="14.3"/><rect x="655" y="618.5" width="4" height="18.3"/><rect x="660" y="618.5" width="5" height="20.2"/><rect x="666" y="618.5" width="4" height="20.2"/><rect x="766" y="618.5" width="5" height="1.2"/><rect x="772" y="618.5" width="4" height="3"/><rect x="783" y="618.5" width="5" height="2"/><rect x="789" y="618.5" width="4" height="3.3"/><rect x="951" y="618.5" width="4" height="0.7"/></g>
<g fill="#ffcdd2"><rect x="79" y="618.5" width="5" height="6.5"/><rect x="85" y="618.5" width="4" height="5.8"/><rect x="96" y="618.5" width="5" height="7.7"/><rect x="107" y="618.5" width="5" height="7.7"/><rect x="113" y="618.5" width="4" height="7.1"/><rect x="124" y="618.5" width="5" height="7.1"/><rect x="130" y="618.5" width="4" height="7.1"/><rect x="135" y="618.5" width="5" height="5.8"/><rect x="141" y="618.5" width="4" height="3.9"/><rect x="146" y="618.5" width="5" height="2"/><rect x="152" y="618.5" width="5" height="0.7"/><rect x="398" y="618.5" width="4" height="8.3"/><rect x="409" y="618.5" width="4" height="7.3"/><rect x="437" y="618.5" width="4" height="10.6"/><rect x="442" y="618.5" width="5" height="10.2"/><rect x="448" y="618.5" width="5" height="8.9"/><rect x="454" y="618.5" width="4" height="8.9"/><rect x="459" y="618.5" width="5" height="8.3"/><rect x="465" y="618.5" width="4" height="6.4"/><rect x="470" y="618.5" width="5" height="3.3"/><rect x="476" y="618.5" width="4" height="3.3"/><rect x="481" y="618.5" width="5" height="1.4"/><rect x="487" y="618.5" width="5" height="1.4"/><rect x="582" y="618.5" width="5" height="1.8"/><rect x="593" y="618.5" width="5" height="2.7"/><rect x="604" y="618.5" width="5" height="2"/><rect x="610" y="618.5" width="4" height="3"/><rect x="615" y="618.5" width="5" height="3"/><rect x="627" y="618.5" width="4" height="3"/><rect x="632" y="618.5" width="5" height="2"/><rect x="671" y="618.5" width="5" height="17.3"/><rect x="677" y="618.5" width="5" height="15.2"/><rect x="683" y="618.5" width="4" height="11.4"/><rect x="688" y="618.5" width="5" height="8.3"/><rect x="694" y="618.5" width="4" height="3.3"/><rect x="777" y="618.5" width="5" height="2"/><rect x="794" y="618.5" width="5" height="0.8"/></g>
<line x1="12" y1="618.5" x2="1513" y2="618.5" stroke="#9598a1" stroke-width="1" stroke-dasharray="5 6"/>
<polyline points="11.1,630.6 20.5,627.4 33,620.5 45.5,615.5 55.6,613.3 64.3,614.3 78.1,618.7 95.6,624.3 114.4,631.2 133.2,637.4 145.7,639.6 158.2,639.6 177,638.1 189.5,635.6 200,633.5 211.3,631.8 221.3,629.6 235,628 253.8,628.3 270.1,627.1 287.6,623.7 307.6,618.4 325.2,612.4 343.9,604.9 360.2,600.3 370.2,599.5 385.2,601.5 395,604.9 411.3,609.9 426.3,616.8 445.1,625.6 461.3,631.8 475.1,633.7 495.1,634.3 507.6,632.4 522.7,626.2 538.9,619.9 555.2,615.8 570.2,616.5 582.7,618.7 595,620.3 602.5,622.8 621.3,625.3 640,626.8 646.3,628.7 656.3,635.6 667.6,645.6 680.1,654.3 692.6,658.7 702.6,659.3 715.2,656.6 727.7,652.5 740.2,647.8 752.7,645 765.2,645 777.7,646.2 785,646.8 792.5,647.8 803.8,647.1 822.5,640.3 841.3,636.2 860.1,633.7 872.6,630.6 891.4,624.1 910.2,618.7 922.7,616.2 935.2,615.3 952.7,615.3 958.8,614.1 966.4,611.6 975.2,608.1 985.2,604 994,601.7 1002.8,600 1009.1,598.4 1014.7,597.4" fill="none" stroke="#ff6d00" stroke-width="1.15" stroke-linejoin="round" stroke-linecap="round"/>
<polyline points="11.1,626.2 20.5,619.3 29.3,613 36.8,607.4 41.8,606.2 46.8,607.4 53.7,607.4 60.6,614.3 68.1,621.8 75.6,625.6 84.3,626.8 91.9,631.8 105.6,636.8 120.6,641.8 136.9,644.3 151.9,640.6 170.7,636.2 185.7,634.1 193.2,630.6 203.2,629.1 210,628.7 216.3,624.3 221.3,623.3 227.5,626.2 237.5,627.7 253.8,629.1 258.8,626.6 270.1,626.6 282.6,620.5 295.1,618.7 310.1,611.5 326.4,605.3 338.9,596.1 345.2,594.6 355.2,594.3 362.7,596.8 375.2,600.3 385.2,605.5 392.7,612.2 400,615 411.3,617.4 420,623 430,629.3 445.1,634.3 461.3,639.3 472.6,636.6 482.6,635.3 495.1,635.8 502.6,633.1 512.6,624.3 523.9,619.3 532.7,614.3 540.2,611.5 554,611.8 564,615.5 572.7,619.3 581.5,621.2 590.2,624 600,626.2 615,626.8 627.5,628.7 637.6,628.1 640,628.7 645.1,633.1 651.3,644.3 658.8,655.6 667.6,666.2 680.1,668.4 690.1,666.6 697.6,660.6 706.4,656.6 712.7,655.3 722.7,647.5 732.7,641.6 740.2,638.4 746.4,640 756.5,644.3 762.7,644.3 774,649.1 781.5,648.3 790.6,650.6 797.5,647.5 807.5,640.6 818.8,635.3 828.8,633.1 841.3,632.4 851.3,631.2 858.8,632.4 867.6,629.6 877.6,622.4 890.1,619.3 897.6,616.2 906.4,612.4 916.4,611.8 923.9,612.4 928.9,614.5 940.2,613.4 946.3,614.6 953.2,614.4 958.8,609.4 963.9,605.3 969.5,601.5 975.2,598.7 980.8,596.5 986.5,595.9 992.1,596.9 997.8,597.4 1002.8,594.5 1008.4,593.4 1014.7,593.4" fill="none" stroke="#2962ff" stroke-width="1.15" stroke-linejoin="round" stroke-linecap="round"/>
</g>
<text x="20" y="606" font-size="13" fill="#131722" text-anchor="start" font-weight="normal" textLength="124.5" lengthAdjust="spacingAndGlyphs" stroke="#131722" stroke-width="0.25">MACD (12, 26, close)</text>
<text x="153" y="606" font-size="13" fill="#b2dfdb" text-anchor="start" font-weight="normal" textLength="26" lengthAdjust="spacingAndGlyphs" stroke="#b2dfdb" stroke-width="0.25">0.78</text>
<text x="187.5" y="606" font-size="13" fill="#2962ff" text-anchor="start" font-weight="normal" textLength="26" lengthAdjust="spacingAndGlyphs" stroke="#2962ff" stroke-width="0.25">4.49</text>
<text x="222" y="606" font-size="13" fill="#ff6d00" text-anchor="start" font-weight="normal" textLength="25" lengthAdjust="spacingAndGlyphs" stroke="#ff6d00" stroke-width="0.25">3.71</text>
<g clip-path="url(#cmacdax)">
<text x="1524" y="677.5" font-size="14.2" fill="#131722" text-anchor="start" font-weight="normal" textLength="39.5" lengthAdjust="spacingAndGlyphs" stroke="#131722" stroke-width="0.25">−10.00</text>
</g>
<rect x="1514" y="584.2" width="41" height="3" fill="#2962ff"/>
<rect x="1514" y="586.2" width="41" height="18.5" rx="2" fill="#ff6d00"/>
<text x="1523" y="600.35" font-size="14.2" fill="#ffffff" text-anchor="start" font-weight="normal" textLength="25" lengthAdjust="spacingAndGlyphs" stroke="#ffffff" stroke-width="0.25">3.71</text>
<rect x="1514" y="604.7" width="41" height="18.8" rx="2" fill="#b2dfdb"/>
<text x="1523" y="619" font-size="14.2" fill="#131722" text-anchor="start" font-weight="normal" textLength="26" lengthAdjust="spacingAndGlyphs" stroke="#131722" stroke-width="0.25">0.78</text>
<g clip-path="url(#crsi)">
<path d="M70.5 678V808.5M137.5 678V808.5M204.5 678V808.5M271.5 678V808.5M338.5 678V808.5M405.5 678V808.5M472.5 678V808.5M539.5 678V808.5M606.5 678V808.5M673.5 678V808.5M740.5 678V808.5M807.5 678V808.5M874.5 678V808.5M941.5 678V808.5M1008.5 678V808.5M1075.5 678V808.5M1142.5 678V808.5M1209.5 678V808.5M1277.5 678V808.5M1344.5 678V808.5M1411.5 678V808.5M1478.5 678V808.5M1545.5 678V808.5M12 712.5H1513M12 753.5H1513M12 795.5H1513" stroke="#2a2e39" stroke-opacity="0.065" stroke-width="1" fill="none"/>
<rect x="12" y="691.3" width="1501" height="83" fill="#7e57c2" fill-opacity="0.1"/>
<line x1="12" y1="691.5" x2="1513" y2="691.5" stroke="#787b86" stroke-width="1" stroke-dasharray="5 6"/>
<line x1="12" y1="774.5" x2="1513" y2="774.5" stroke="#787b86" stroke-width="1" stroke-dasharray="5 6"/>
<line x1="12" y1="733.5" x2="1513" y2="733.5" stroke="#9a9ca5" stroke-width="1" stroke-dasharray="5 6"/>
<polygon points="646.11,774.4 651.49,794.9 657.07,794.9 662.66,795.6 668.25,797.3 673.9,774.4" fill="url(#osg)"/>
<polyline points="11.4,743.3 25.9,737.8 35.5,732.3 46.5,727.5 54.8,725.4 67.2,727.1 82.3,729.8 93.3,733.4 107.1,741.3 120.9,748.8 131.9,754.1 145.6,754.6 164.9,755.4 187,753.2 195.2,750.5 208,747 220.6,742.2 234.4,741.7 248.2,740.6 261.9,739.2 271.6,739.9 288.1,736.4 296.4,737.1 310.1,732.3 326.6,724.3 337.6,718.3 347.3,713.7 356.9,711.7 372.1,710.6 385.8,713 395,717.4 408.8,724 422.5,733.7 433.5,740.3 450.1,748.1 462.4,753.2 472.1,752.7 480.3,754.3 496.9,755.4 512,747.4 525.8,740.6 539.5,732.6 556,728.5 567,728.2 575.3,727.5 587.7,731.6 603.8,735.7 614.8,740.6 631.3,746.1 645.1,748.8 656.1,755.7 668.5,763.3 679.5,767.4 691.9,770.6 704.2,770.8 712.5,772.2 720.8,770.2 730.4,764 741.4,756.4 748.3,754.3 762.1,752.3 768.9,751.9 779.9,753.6 798.8,754.6 818,753.6 826.3,751.6 837.3,748.8 846.9,746.8 856.6,745.4 862.1,744.7 874.5,739.9 888.2,737.8 897.9,735.7 908.9,731.6 919.9,728.9 930.9,727.5 939.6,724.3 946.5,724.4 953,725.6 957.6,724.8 968.2,720.7 979.6,718.3 992,717 998.1,715.7 1008.7,710.8 1014.7,709.3" fill="none" stroke="#fdd835" stroke-width="1.15" stroke-linejoin="round" stroke-linecap="round"/>
<polyline points="8,727 14.8,729.8 20.39,717.9 25.97,708.9 31.55,704.8 37.14,704.8 42.73,714.4 48.31,733 53.89,723.8 59.48,750.2 65.06,752.7 70.65,753.6 76.23,747.4 81.82,742.2 87.41,743.6 92.99,759.1 98.58,750.5 104.16,755.4 109.74,755.4 115.33,755.7 120.91,761.2 126.5,761.9 132.09,764.2 137.67,761.9 143.26,750.9 148.84,750.2 154.43,746.8 160.01,753.6 165.59,751.3 171.18,747.4 176.77,743.6 182.35,751.6 187.94,744.7 193.52,727.5 199.11,743.3 204.69,737.3 210.28,743.6 215.86,721 221.45,729.8 227.03,750.5 232.62,743.3 238.2,745.8 243.78,744 249.37,744 254.96,745.4 260.54,728.5 266.12,742.2 271.71,737.1 277.3,725.4 282.88,722 288.47,726.8 294.05,732.3 299.63,723.4 305.22,714.7 310.81,713.7 316.39,708.9 321.98,705.1 327.56,710.3 333.14,694.5 338.73,692.1 344.31,699.3 349.9,712.8 355.49,704.8 361.07,721.3 366.66,723.4 372.24,720.2 377.82,729.6 383.41,733 389,740.6 394.58,749.5 400.17,738.1 405.75,741.9 411.34,737.5 416.92,746.1 422.5,756.4 428.09,760.5 433.68,758.7 439.26,753.9 444.85,760.5 450.43,762.6 456.01,764.2 461.6,766.7 467.19,745.7 472.77,745.8 478.36,751.6 483.94,743.3 489.53,751.6 495.11,758.5 500.69,739.2 506.28,719.9 511.87,714.1 517.45,724.7 523.03,720.6 528.62,714.7 534.2,713 539.79,715.8 545.38,728.5 550.96,726.1 556.54,730.2 562.13,740.6 567.71,750.9 573.3,746.1 578.88,742.6 584.47,741.3 590.05,751.2 595.64,745.4 601.22,748.1 606.81,748.5 612.39,744.7 617.98,743 623.56,755 629.15,750.2 634.73,739.2 640.32,751.9 645.9,773.6 651.49,794.9 657.07,794.9 662.66,795.6 668.25,797.3 673.83,774.7 679.41,776.6 685,772 690.58,768.8 696.17,746.8 701.75,754.3 707.34,753.2 712.92,758.5 718.51,743.6 724.09,738.1 729.68,741.3 735.26,739.5 740.85,740.6 746.43,756 752.02,764.2 757.6,766.4 763.19,756 768.77,765.3 774.36,770.6 779.94,751.9 785.53,759.8 791.11,764.5 796.7,748.1 802.28,737.8 807.87,735.3 813.45,735.3 819.04,736.2 824.62,741.3 830.21,741.5 835.79,746.1 841.38,745.8 846.96,746.8 852.55,744.4 858.13,755.7 863.72,742.2 869.3,733.7 874.89,716.5 880.47,719.9 886.06,727.1 891.64,728.5 897.23,716.9 902.81,713.7 908.4,712.8 913.98,723.4 919.57,727.5 925.15,731.2 930.74,743.6 936.32,723.4 941.91,724.6 947.5,738 953.08,731 958.66,702.6 964.25,700.5 969.83,700 975.42,699.4 981,698.2 986.59,703.8 992.17,715.2 997.76,712.6 1003.34,695.7 1008.93,706 1014.51,705.6" fill="none" stroke="#7e57c2" stroke-width="1.15" stroke-linejoin="round" stroke-linecap="round"/>
</g>
<text x="20.5" y="700" font-size="13" fill="#131722" text-anchor="start" font-weight="normal" textLength="84.5" lengthAdjust="spacingAndGlyphs" stroke="#131722" stroke-width="0.25">RSI (14, close)</text>
<text x="114.5" y="700" font-size="13" fill="#7e57c2" text-anchor="start" font-weight="normal" textLength="32.5" lengthAdjust="spacingAndGlyphs" stroke="#7e57c2" stroke-width="0.25">62.98</text>
<text x="155.5" y="700" font-size="13" fill="#fdd835" text-anchor="start" font-weight="normal" textLength="32.5" lengthAdjust="spacingAndGlyphs" stroke="#fdd835" stroke-width="0.25">61.06</text>
<text x="1523" y="758.1" font-size="14.2" fill="#131722" text-anchor="start" font-weight="normal" textLength="33.5" lengthAdjust="spacingAndGlyphs" stroke="#131722" stroke-width="0.25">40.00</text>
<text x="1523" y="800" font-size="14.2" fill="#131722" text-anchor="start" font-weight="normal" textLength="33.5" lengthAdjust="spacingAndGlyphs" stroke="#131722" stroke-width="0.25">20.00</text>
<rect x="1514" y="697.2" width="48" height="18.4" rx="2" fill="#7e57c2"/>
<text x="1523" y="711.3" font-size="14.2" fill="#ffffff" text-anchor="start" font-weight="normal" textLength="33.5" lengthAdjust="spacingAndGlyphs" stroke="#ffffff" stroke-width="0.25">62.98</text>
<rect x="1514" y="715.6" width="48" height="19.1" rx="2" fill="#fdd835"/>
<text x="1523" y="730.05" font-size="14.2" fill="#131722" text-anchor="start" font-weight="normal" textLength="33.5" lengthAdjust="spacingAndGlyphs" stroke="#131722" stroke-width="0.25">61.06</text>
<text x="70.5" y="828.7" font-size="13" fill="#131722" text-anchor="middle" font-weight="normal" stroke="#131722" stroke-width="0.25">5</text>
<text x="137.5" y="828.7" font-size="13" fill="#131722" text-anchor="middle" font-weight="normal" stroke="#131722" stroke-width="0.25">7</text>
<text x="204.5" y="828.7" font-size="13" fill="#131722" text-anchor="middle" font-weight="normal" stroke="#131722" stroke-width="0.25">9</text>
<text x="271.5" y="828.7" font-size="13" fill="#131722" text-anchor="middle" font-weight="normal" stroke="#131722" stroke-width="0.25">11</text>
<text x="338.5" y="828.7" font-size="13" fill="#131722" text-anchor="middle" font-weight="normal" stroke="#131722" stroke-width="0.25">13</text>
<text x="405.5" y="828.7" font-size="13" fill="#131722" text-anchor="middle" font-weight="normal" stroke="#131722" stroke-width="0.25">15</text>
<text x="472.5" y="828.7" font-size="13" fill="#131722" text-anchor="middle" font-weight="normal" stroke="#131722" stroke-width="0.25">17</text>
<text x="539.5" y="828.7" font-size="13" fill="#131722" text-anchor="middle" font-weight="normal" stroke="#131722" stroke-width="0.25">19</text>
<text x="606.5" y="828.7" font-size="13" fill="#131722" text-anchor="middle" font-weight="normal" stroke="#131722" stroke-width="0.25">21</text>
<text x="673.5" y="828.7" font-size="13" fill="#131722" text-anchor="middle" font-weight="normal" stroke="#131722" stroke-width="0.25">23</text>
<text x="740.5" y="828.7" font-size="13" fill="#131722" text-anchor="middle" font-weight="normal" stroke="#131722" stroke-width="0.25">25</text>
<text x="807.5" y="828.7" font-size="13" fill="#131722" text-anchor="middle" font-weight="normal" stroke="#131722" stroke-width="0.25">27</text>
<text x="874.5" y="828.7" font-size="13" fill="#131722" text-anchor="middle" font-weight="normal" stroke="#131722" stroke-width="0.25">29</text>
<text x="941.5" y="828.7" font-size="13" fill="#131722" text-anchor="middle" font-weight="normal" stroke="#131722" stroke-width="0.25">Oct</text>
<text x="1008.5" y="828.7" font-size="13" fill="#131722" text-anchor="middle" font-weight="normal" stroke="#131722" stroke-width="0.25">3</text>
<text x="1075.5" y="828.7" font-size="13" fill="#131722" text-anchor="middle" font-weight="normal" stroke="#131722" stroke-width="0.25">5</text>
<text x="1142.5" y="828.7" font-size="13" fill="#131722" text-anchor="middle" font-weight="normal" stroke="#131722" stroke-width="0.25">7</text>
<text x="1209.5" y="828.7" font-size="13" fill="#131722" text-anchor="middle" font-weight="normal" stroke="#131722" stroke-width="0.25">9</text>
<text x="1277.5" y="828.7" font-size="13" fill="#131722" text-anchor="middle" font-weight="normal" stroke="#131722" stroke-width="0.25">11</text>
<text x="1344.5" y="828.7" font-size="13" fill="#131722" text-anchor="middle" font-weight="normal" stroke="#131722" stroke-width="0.25">13</text>
<text x="1411.5" y="828.7" font-size="13" fill="#131722" text-anchor="middle" font-weight="normal" stroke="#131722" stroke-width="0.25">15</text>
<text x="1478.5" y="828.7" font-size="13" fill="#131722" text-anchor="middle" font-weight="normal" stroke="#131722" stroke-width="0.25">17</text>
<g>
<circle cx="1014.5" cy="568.3" r="11.6" fill="#ffffff"/>
<circle cx="1014.5" cy="568.3" r="10.6" fill="none" stroke="#9c27b0" stroke-width="1.9"/>
<polyline points="1017.5,563.6 1011,568.5 1018,568.4 1011.4,573.6" fill="none" stroke="#9c27b0" stroke-width="1.9" stroke-linejoin="round" stroke-linecap="round"/>
<circle cx="1022.1" cy="560.6" r="5" fill="#ffffff"/>
<circle cx="1022.1" cy="560.6" r="2.9" fill="#f23645"/>
</g>
<g fill="#131722">
<path d="M13 865.1H26.8V881.8H19.9V871H13Z"/>
<circle cx="32.4" cy="868.2" r="3.1"/>
<path d="M38.3 865.1H46.6L40.1 881.8H32.4Z"/>
</g>
<text x="55" y="881.8" font-size="23.5" fill="#131722" text-anchor="start" font-weight="bold" textLength="135.5" lengthAdjust="spacingAndGlyphs">TradingView</text>
</svg></body></html>
